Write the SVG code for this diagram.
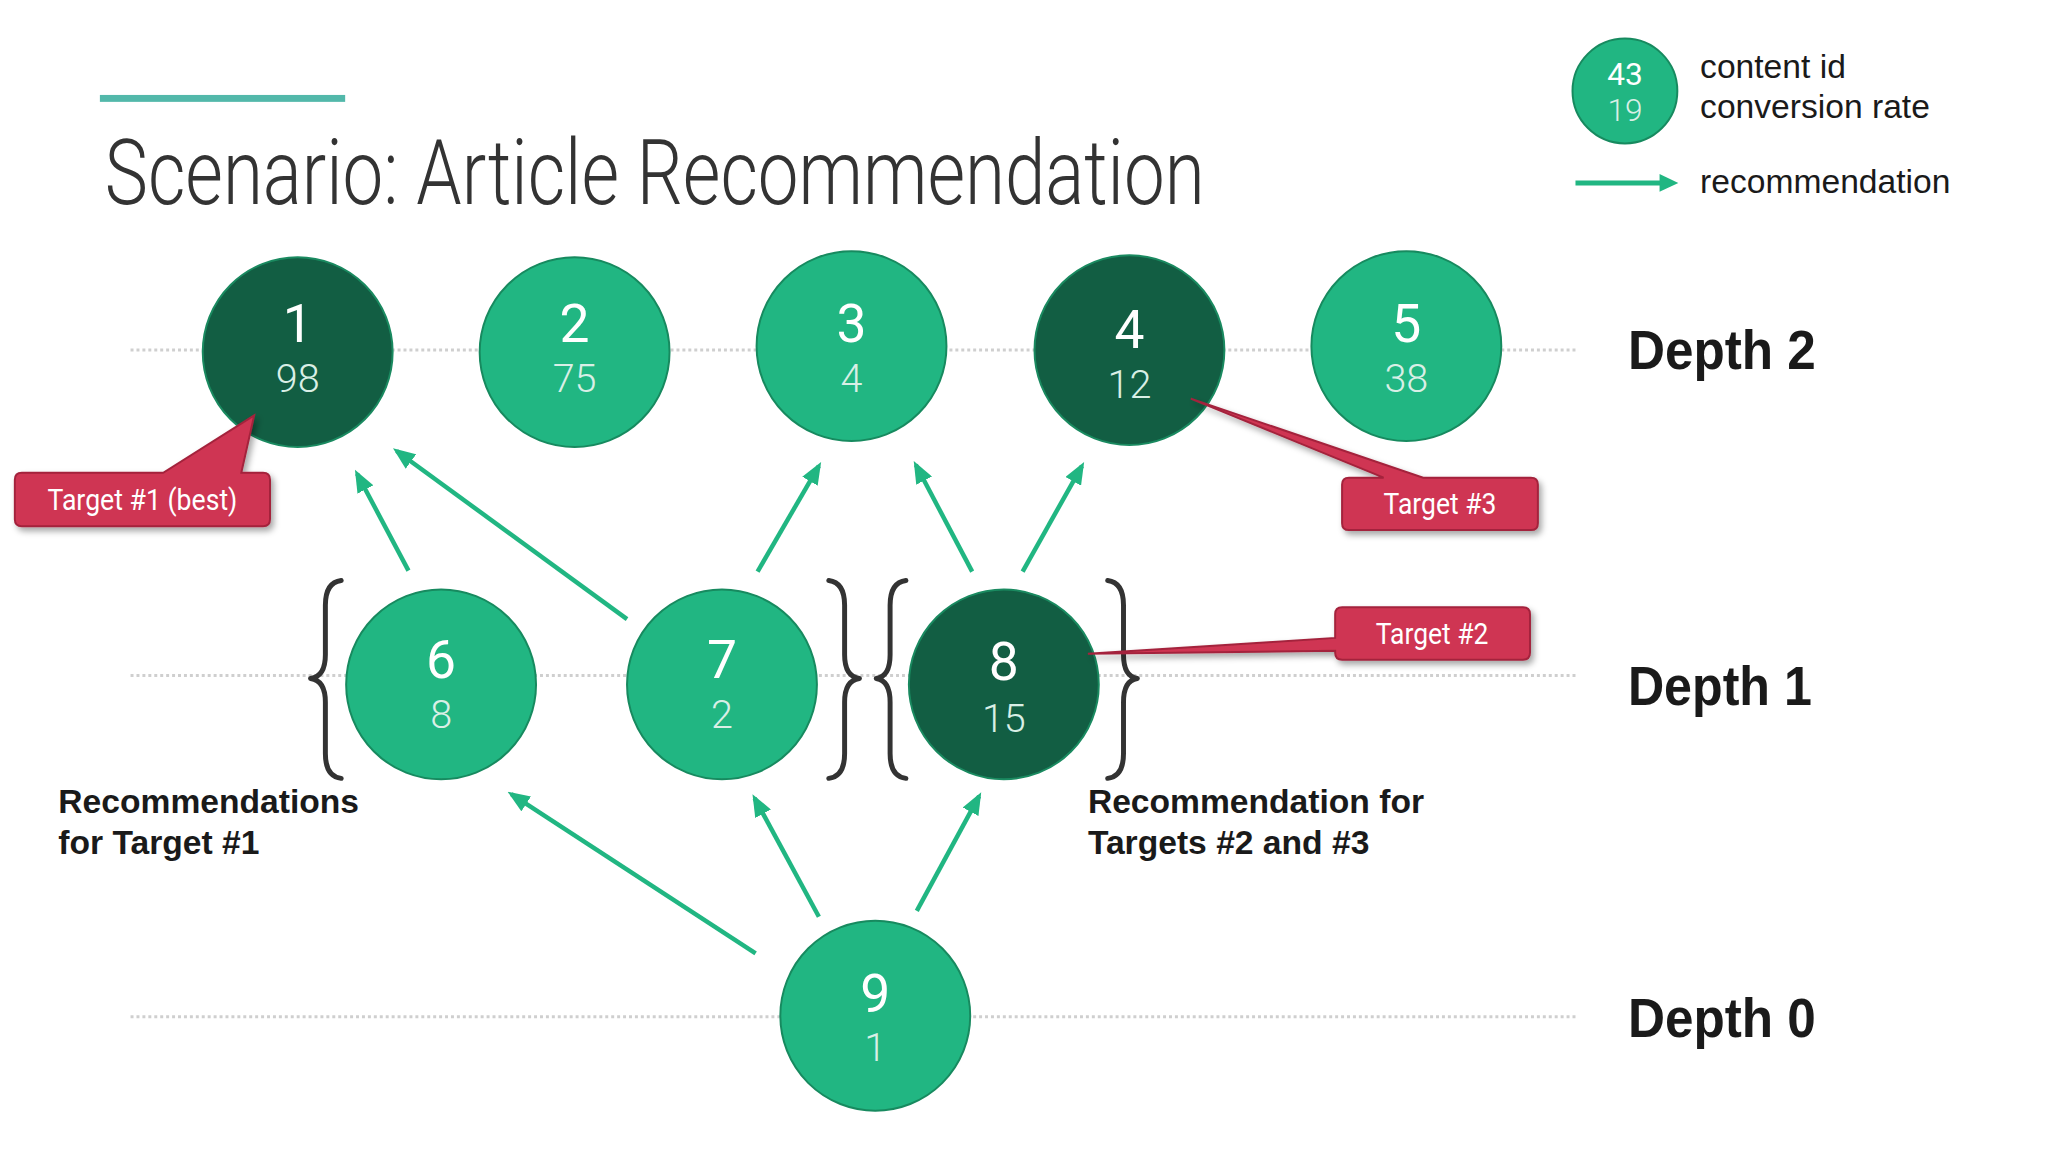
<svg xmlns="http://www.w3.org/2000/svg" width="2048" height="1152" viewBox="0 0 2048 1152">
<style>
.bg{fill:#ffffff}
.guide{stroke:#cfcfcf;stroke-width:3;stroke-dasharray:3 3;fill:none}
.nl{fill:#21b682;stroke:#178a5f;stroke-width:2}
.nd{fill:#125e43;stroke:#1a8a60;stroke-width:2}
.t1{font-family:Roboto,"Liberation Sans",sans-serif;font-size:54px;fill:#ffffff;text-anchor:middle}
.t2{font-family:Roboto,"Liberation Sans",sans-serif;font-weight:300;font-size:40px;fill:#d9efe6;text-anchor:middle}
.arr{stroke:#21b682;stroke-width:4.5;fill:none;marker-end:url(#ah)}
.brace{stroke:#333333;stroke-width:5;fill:none;stroke-linecap:round;stroke-linejoin:round}
.lbl{font-family:"Liberation Sans",Arial,sans-serif;font-weight:bold;font-size:34px;fill:#1a1a1a}
.depth{font-family:"Liberation Sans",Arial,sans-serif;font-weight:bold;font-size:56px;fill:#1a1a1a}
.leg{font-family:"Liberation Sans",Arial,sans-serif;font-size:34px;fill:#1a1a1a}
.call{fill:#cf3552;stroke:#a4243c;stroke-width:2;filter:url(#sh)}
.ct{font-family:Roboto,"Liberation Sans",sans-serif;font-size:30px;fill:#ffffff;text-anchor:middle}
</style>
<defs>
<marker id="ah" viewBox="0 0 10 8" markerWidth="5" markerHeight="4" refX="8" refY="4" orient="auto" markerUnits="strokeWidth">
<path d="M0,0 L10,4 L0,8 z" fill="#21b682"/>
</marker>
<filter id="sh" x="-10%" y="-20%" width="130%" height="160%">
<feDropShadow dx="3" dy="4" stdDeviation="3" flood-color="#000000" flood-opacity="0.35"/>
</filter>
</defs>
<rect class="bg" x="0" y="0" width="2048" height="1152"/>
<g transform="scale(0.989)">
<g id="title">
<rect x="101" y="96" width="248" height="7" fill="#52b8aa"/>
<text x="106" y="206" font-family="Roboto,'Liberation Sans',sans-serif" font-weight="300" font-size="92" fill="#333333" textLength="1112" lengthAdjust="spacingAndGlyphs">Scenario: Article Recommendation</text>
</g>

<g id="guides">
<line class="guide" x1="132" y1="354" x2="1593" y2="354"/>
<line class="guide" x1="132" y1="683" x2="1593" y2="683"/>
<line class="guide" x1="132" y1="1028" x2="1593" y2="1028"/>
</g>

<g id="legend">
<circle class="nl" cx="1643" cy="92" r="53"/>
<text x="1643" y="86" font-family="Roboto,'Liberation Sans',sans-serif" font-size="32" fill="#ffffff" text-anchor="middle">43</text>
<text x="1643" y="122" font-family="Roboto,'Liberation Sans',sans-serif" font-weight="300" font-size="32" fill="#d9efe6" text-anchor="middle">19</text>
<text class="leg" x="1719" y="79">content id</text>
<text class="leg" x="1719" y="119">conversion rate</text>
<line x1="1593" y1="185" x2="1682" y2="185" stroke="#21b682" stroke-width="5"/>
<path d="M1678,176 L1697,185 L1678,194 z" fill="#21b682"/>
<text class="leg" x="1719" y="195">recommendation</text>
</g>

<g id="connectors">
<line class="arr" x1="413" y1="577" x2="361" y2="479"/>
<line class="arr" x1="634" y1="626" x2="401" y2="456"/>
<line class="arr" x1="766" y1="578" x2="828" y2="471"/>
<line class="arr" x1="983" y1="578" x2="926" y2="470"/>
<line class="arr" x1="1034" y1="578" x2="1094" y2="471"/>
<line class="arr" x1="764" y1="964" x2="517" y2="803"/>
<line class="arr" x1="828" y1="927" x2="763" y2="807"/>
<line class="arr" x1="927" y1="921" x2="990" y2="805"/>
</g>

<g id="node1"><circle class="nd" cx="301" cy="356" r="96"/><text class="t1" x="301" y="346">1</text><text class="t2" x="301" y="396">98</text></g>
<g id="node2"><circle class="nl" cx="581" cy="356" r="96"/><text class="t1" x="581" y="346">2</text><text class="t2" x="581" y="396">75</text></g>
<g id="node3"><circle class="nl" cx="861" cy="350" r="96"/><text class="t1" x="861" y="346">3</text><text class="t2" x="861" y="396">4</text></g>
<g id="node4"><circle class="nd" cx="1142" cy="354" r="96"/><text class="t1" x="1142" y="352">4</text><text class="t2" x="1142" y="402">12</text></g>
<g id="node5"><circle class="nl" cx="1422" cy="350" r="96"/><text class="t1" x="1422" y="346">5</text><text class="t2" x="1422" y="396">38</text></g>

<g id="node6"><circle class="nl" cx="446" cy="692" r="96"/><text class="t1" x="446" y="686">6</text><text class="t2" x="446" y="736">8</text></g>
<g id="node7"><circle class="nl" cx="730" cy="692" r="96"/><text class="t1" x="730" y="686">7</text><text class="t2" x="730" y="736">2</text></g>
<g id="node8"><circle class="nd" cx="1015" cy="692" r="96"/><text class="t1" x="1015" y="688">8</text><text class="t2" x="1015" y="740">15</text></g>

<g id="node9"><circle class="nl" cx="885" cy="1027" r="96"/><text class="t1" x="885" y="1023">9</text><text class="t2" x="885" y="1073">1</text></g>

<g id="braces">
<path class="brace" d="M345,587 Q329,589 329,612 L329,662 Q329,684 314,686 Q329,688 329,710 L329,762 Q329,785 345,787"/>
<path class="brace" d="M838,587 Q854,589 854,612 L854,662 Q854,684 869,686 Q854,688 854,710 L854,762 Q854,785 838,787"/>
<path class="brace" d="M916,587 Q900,589 900,612 L900,662 Q900,684 886,686 Q900,688 900,710 L900,762 Q900,785 916,787"/>
<path class="brace" d="M1120,587 Q1136,589 1136,612 L1136,662 Q1136,684 1150,686 Q1136,688 1136,710 L1136,762 Q1136,785 1120,787"/>
</g>

<g id="labels">
<text class="lbl" x="59" y="822">Recommendations</text>
<text class="lbl" x="59" y="864">for Target #1</text>
<text class="lbl" x="1100" y="822">Recommendation for</text>
<text class="lbl" x="1100" y="864">Targets #2 and #3</text>
</g>

<g id="depths">
<text class="depth" x="1646" y="373" textLength="190" lengthAdjust="spacingAndGlyphs">Depth 2</text>
<text class="depth" x="1646" y="713" textLength="186" lengthAdjust="spacingAndGlyphs">Depth 1</text>
<text class="depth" x="1646" y="1049" textLength="190" lengthAdjust="spacingAndGlyphs">Depth 0</text>
</g>

<g id="target1">
<path class="call" d="M22,478 L165,478 L257,420 L244,478 L266,478 Q273,478 273,485 L273,525 Q273,532 266,532 L22,532 Q15,532 15,525 L15,485 Q15,478 22,478 z"/>
<text class="ct" x="144" y="516" textLength="192" lengthAdjust="spacingAndGlyphs">Target #1 (best)</text>
</g>
<g id="target3">
<path class="call" d="M1364,483 L1399,483 L1204,403 L1439,483 L1548,483 Q1555,483 1555,490 L1555,529 Q1555,536 1548,536 L1364,536 Q1357,536 1357,529 L1357,490 Q1357,483 1364,483 z"/>
<text class="ct" x="1456" y="520" textLength="114" lengthAdjust="spacingAndGlyphs">Target #3</text>
</g>
<g id="target2">
<path class="call" d="M1357,614 L1540,614 Q1547,614 1547,621 L1547,660 Q1547,667 1540,667 L1357,667 Q1350,667 1350,660 L1350,658 L1100,661 L1350,645 L1350,621 Q1350,614 1357,614 z"/>
<text class="ct" x="1448" y="651" textLength="114" lengthAdjust="spacingAndGlyphs">Target #2</text>
</g>
</g>
</svg>
